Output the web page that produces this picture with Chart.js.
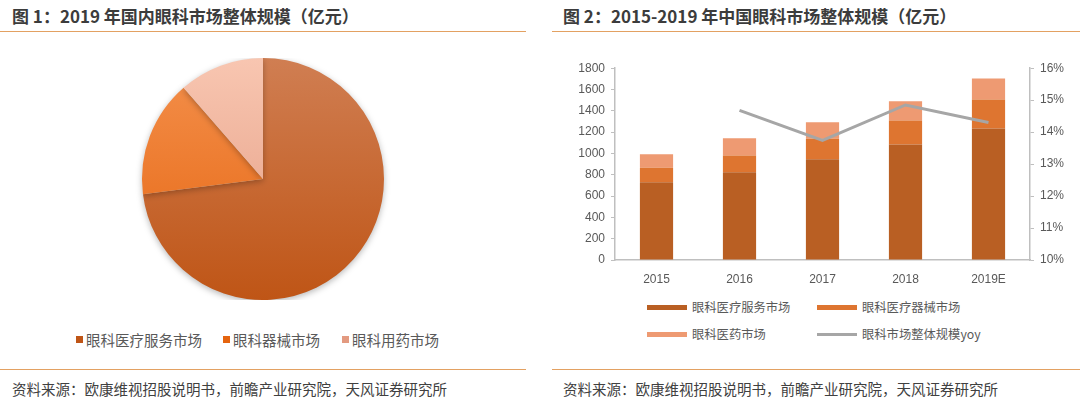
<!DOCTYPE html>
<html>
<head>
<meta charset="utf-8">
<script src="https://cdn.jsdelivr.net/npm/chart.js@4/dist/chart.umd.min.js"></script>
<style>
  body { margin: 0; background: #fff; width: 1080px; height: 399px; position: relative; overflow: hidden;
         font-family: "Noto Sans CJK SC", "Noto Sans", sans-serif; color: #595959; }
  .title { position: absolute; top: 3px; font-size: 17px; font-weight: bold; color: #3c3c3c; white-space: nowrap; }
  .rule { position: absolute; height: 1px; background: #e3a162; }
  .source { position: absolute; top: 378px; font-size: 14.5px; color: #404040; white-space: nowrap; }
  .box { position: absolute; }
  .leg { position: absolute; white-space: nowrap; display: flex; align-items: center; }
</style>
</head>
<body>
<div class="title" style="left:12px">图 1：2019 年国内眼科市场整体规模（亿元）</div>
<div class="title" style="left:563px">图 2：2015-2019 年中国眼科市场整体规模（亿元）</div>
<div class="rule" style="left:0;width:526px;top:31px"></div>
<div class="rule" style="left:552px;width:528px;top:31px"></div>
<div class="rule" style="left:0;width:526px;top:369px"></div>
<div class="rule" style="left:552px;width:528px;top:369px"></div>
<div class="source" style="left:12px">资料来源：欧康维视招股说明书，前瞻产业研究院，天风证券研究所</div>
<div class="source" style="left:563px">资料来源：欧康维视招股说明书，前瞻产业研究院，天风证券研究所</div>

<div class="box" style="left:0;top:58px;width:526px;height:242px"><canvas id="pie"></canvas></div>
<div class="box" style="left:555px;top:55px;width:525px;height:231px"><canvas id="bar"></canvas></div>
<div id="pieLegend"></div>
<div id="barLegend"></div>

<script>
// 2019 market split (share, %)
const pieLabels = ['眼科医疗服务市场', '眼科器械市场', '眼科用药市场'];
const pieValues = [73.0, 15.6, 11.4];

// 2015-2019E market size (亿元)
const years = ['2015', '2016', '2017', '2018', '2019E'];
const serviceMarket = [730, 823, 945, 1083, 1234];
const deviceMarket = [135, 157, 192, 226, 272];
const drugMarket = [127, 163, 156, 181, 197];
const totalYoy = [null, 14.68, 13.74, 14.85, 14.30];

const barNames = ['眼科医疗服务市场', '眼科医疗器械市场', '眼科医药市场', '眼科市场整体规模yoy'];

const pieTop = ['#d07e52', '#f4904c', '#f8c6b1'];
const pieBottom = ['#bf5516', '#e5640f', '#e39a80'];
const barColors = ['#b95f23', '#de7530', '#ee9a72', '#a6a6a6'];

const pieShadow = {
    id: 'pieShadow',
    beforeDatasetsDraw(chart) {
        const c = chart.ctx;
        c.save();
        c.shadowColor = 'rgba(0,0,0,0.28)';
        c.shadowBlur = 6;
        c.shadowOffsetY = 2;
    },
    afterDatasetsDraw(chart) {
        chart.ctx.restore();
    }
};

new Chart(document.getElementById('pie'), {
    type: 'pie',
    data: {
        labels: pieLabels,
        datasets: [{
            data: pieValues,
            borderWidth: 0,
            backgroundColor: function (ctx) {
                const area = ctx.chart.chartArea;
                const i = ctx.dataIndex;
                if (!area) return pieTop[i];
                const g = ctx.chart.ctx.createLinearGradient(0, area.top, 0, area.bottom);
                g.addColorStop(0, pieTop[i]);
                g.addColorStop(1, pieBottom[i]);
                return g;
            }
        }]
    },
    options: {
        responsive: true,
        maintainAspectRatio: false,
        animation: false,
        layout: { padding: 0 },
        plugins: { legend: { display: false }, tooltip: { enabled: false } }
    },
    plugins: [pieShadow]
});

var tickFont = { family: '"Liberation Sans", Arial, sans-serif', size: 12 };

new Chart(document.getElementById('bar'), {
    type: 'bar',
    data: {
        labels: years,
        datasets: [
            { type: 'line', label: barNames[3], data: totalYoy, yAxisID: 'y1', borderColor: barColors[3],
              borderWidth: 3, pointRadius: 0, tension: 0, order: 0, spanGaps: false },
            { label: barNames[0], data: serviceMarket, backgroundColor: barColors[0], order: 1 },
            { label: barNames[1], data: deviceMarket, backgroundColor: barColors[1], order: 1 },
            { label: barNames[2], data: drugMarket, backgroundColor: barColors[2], order: 1 }
        ]
    },
    options: {
        responsive: true,
        maintainAspectRatio: false,
        animation: false,
        layout: { padding: { top: 12, left: 0, right: 0, bottom: 0 } },
        datasets: { bar: { categoryPercentage: 1, barPercentage: 0.4 } },
        plugins: { legend: { display: false }, tooltip: { enabled: false } },
        scales: {
            x: {
                stacked: true,
                grid: { display: false },
                border: { color: '#bfbfbf', width: 1.5 },
                ticks: { color: '#595959', font: tickFont, padding: 4 },
                afterFit: function (s) { s.height = 26; }
            },
            y: {
                stacked: true,
                min: 0, max: 1800,
                ticks: { stepSize: 200, color: '#595959', font: tickFont, padding: 6,
                         callback: function (v) { return String(v); } },
                grid: { drawOnChartArea: false, tickLength: 4, color: '#bfbfbf' },
                border: { color: '#bfbfbf', width: 1.5 },
                afterFit: function (s) { s.width = 60; }
            },
            y1: {
                position: 'right',
                min: 10, max: 16,
                ticks: { stepSize: 1, color: '#595959', font: tickFont, padding: 6,
                         callback: function (v) { return v + '%'; } },
                grid: { drawOnChartArea: false, tickLength: 4, color: '#bfbfbf' },
                border: { color: '#bfbfbf', width: 1.5 },
                afterFit: function (s) { s.width = 50; }
            }
        }
    }
});

// legends
function legendItem(parent, left, top, swatch, text, size) {
    var d = document.createElement('div');
    d.className = 'leg';
    d.style.left = left + 'px';
    d.style.top = top + 'px';
    d.style.fontSize = size + 'px';
    var s = document.createElement('span');
    s.style.cssText = swatch;
    d.appendChild(s);
    var t = document.createElement('span');
    t.textContent = text;
    d.appendChild(t);
    parent.appendChild(d);
}

var pl = document.getElementById('pieLegend');
var pieLegX = [76, 223, 342];
pieLabels.forEach(function (name, i) {
    legendItem(pl, pieLegX[i], 329, 'display:inline-block;width:7px;height:7px;margin-right:3px;background:' + pieBottom[i], name, 14.5);
});

var bl = document.getElementById('barLegend');
var barLegPos = [[647, 298], [817, 298], [647, 325], [817, 325]];
barNames.forEach(function (name, i) {
    var h = i == 3 ? 3 : 5;
    legendItem(bl, barLegPos[i][0], barLegPos[i][1],
        'display:inline-block;width:40px;height:' + h + 'px;margin-right:5px;background:' + barColors[i], name, 12.3);
});
</script>
</body>
</html>
